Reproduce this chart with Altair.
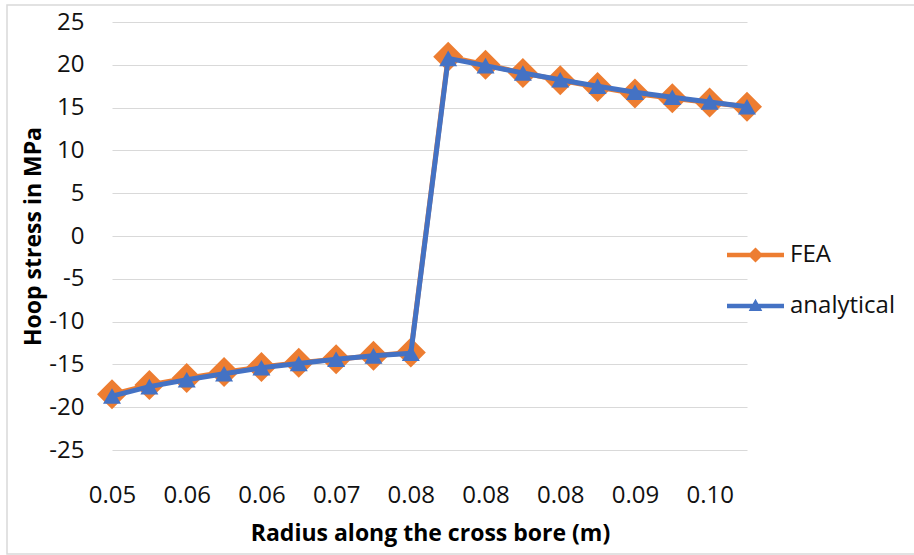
import altair as alt
import pandas as pd

# Hoop stress along the cross bore: FEA result vs. analytical (Lamé) solution
fea = [-18.5, -17.4, -16.6, -15.9, -15.3, -14.8, -14.4, -14.0, -13.6,
       20.95, 20.0, 19.05, 18.2, 17.4, 16.65, 16.1, 15.6, 15.1]
analytical = [-18.7, -17.6, -16.8, -16.1, -15.4, -14.9, -14.4, -14.0, -13.7,
              20.75, 19.9, 19.05, 18.25, 17.5, 16.8, 16.2, 15.65, 15.1]
# category labels shown on every second radius step
tick_labels = ["0.05", "0.06", "0.06", "0.07", "0.08", "0.08", "0.08", "0.09", "0.10"]
series_names = ["FEA", "analytical"]
series_colors = ["#ED7D31", "#4472C4"]

n = len(fea)
df = pd.DataFrame({
    "idx": list(range(n)) * 2,
    "series": ["FEA"] * n + ["analytical"] * n,
    "stress": fea + analytical,
})

FONT = "Open Sans"
FS = 24
label_expr = "[" + ",".join(f"'{t}'" for t in tick_labels) + "][datum.value / 2]"

# legend glyphs: a short line with the series marker in the middle
fea_glyph = "M-2.85,-0.22L2.85,-0.22L2.85,0.22L-2.85,0.22Z M-0.76,0L0,-0.76L0.76,0L0,0.76Z"
ana_glyph = "M-2.85,-0.22L2.85,-0.22L2.85,0.22L-2.85,0.22Z M0,-0.72L0.68,0.5L-0.68,0.5Z"

x_enc = alt.X(
    "idx:O",
    scale=alt.Scale(type="point", padding=0),
    axis=alt.Axis(
        title="Radius along the cross bore (m)", values=list(range(0, n, 2)),
        labelExpr=label_expr, labelAngle=0, labelPadding=33, ticks=False,
        domain=False, grid=False, labelFont=FONT, labelFontSize=FS,
        labelColor="#111111", titleFont=FONT, titleFontSize=23,
        titleFontWeight="bold", titleColor="#000000", titleX=318,
        titleY=83, titleBaseline="middle",
    ),
)
y_enc = alt.Y(
    "stress:Q",
    scale=alt.Scale(domain=[-25, 25], nice=False, zero=False),
    axis=alt.Axis(
        title="Hoop stress in MPa", values=list(range(-25, 30, 5)),
        labelExpr="'' + datum.value",
        ticks=False, domain=False, grid=True, gridColor="#d9d9d9",
        gridWidth=1, labelPadding=28, labelFont=FONT, labelFontSize=FS,
        labelColor="#111111", titleFont=FONT, titleFontSize=23,
        titleFontWeight="bold", titleColor="#000000", titleX=-79,
        titleY=214, titleBaseline="middle", titleAngle=-90,
    ),
)

base = alt.Chart(df).encode(x=x_enc, y=y_enc)
fea_base = base.transform_filter("datum.series === 'FEA'")
ana_base = base.transform_filter("datum.series === 'analytical'")

fea_line = fea_base.mark_line(strokeWidth=5, color=series_colors[0])
fea_pts = fea_base.mark_point(shape="diamond", filled=True, size=900,
                              opacity=1, color=series_colors[0])
ana_line = ana_base.mark_line(strokeWidth=5, color=series_colors[1])
ana_pts = ana_base.mark_point(shape="triangle-up", filled=True, size=324,
                              opacity=1, color=series_colors[1])

legend_props = dict(
    title=None, orient="none", legendX=631.5, legendY=221,
    padding=0, labelFont=FONT, labelFontSize=FS, labelColor="#111111",
    labelOffset=22.5, symbolOffset=0, rowPadding=27, symbolSize=400,
    symbolOpacity=1, symbolStrokeWidth=0,
)

# legend carrier: draws no marks, only defines the colour/shape legend
legend_layer = base.transform_filter("false").mark_point(
    filled=True, size=400, opacity=1
).encode(
    color=alt.Color("series:N",
                    scale=alt.Scale(domain=series_names, range=series_colors),
                    legend=alt.Legend(**legend_props)),
    shape=alt.Shape("series:N",
                    scale=alt.Scale(domain=series_names, range=[fea_glyph, ana_glyph]),
                    legend=alt.Legend(**legend_props)),
)

# light frame around the chart area
frame = alt.Chart(alt.Data(values=[{}])).mark_rect(
    fill="transparent", stroke="#d9d9d9", strokeWidth=1.5
).encode(
    x=alt.value(-105), x2=alt.value(810), y=alt.value(-17), y2=alt.value(532)
)

chart = alt.layer(frame, fea_line, fea_pts, ana_line, ana_pts, legend_layer).properties(
    width=635, height=428,
    autosize=alt.AutoSizeParams(type="none"),
    padding={"left": 112, "top": 22, "right": 167, "bottom": 105},
    background="white",
).configure_view(stroke=None)

chart.save("out.html", embed_options={"renderer": "svg", "actions": False})
